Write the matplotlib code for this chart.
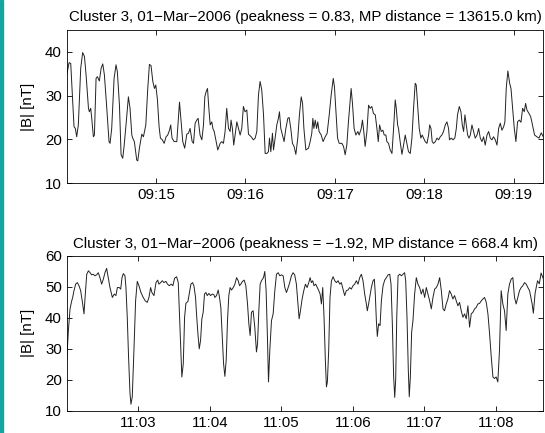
import matplotlib
matplotlib.use("Agg")
import matplotlib.pyplot as plt
import matplotlib.dates as mdates
import numpy as np
from matplotlib.patches import Rectangle

plt.rcParams['font.family'] = ['Liberation Sans', 'DejaVu Sans']
plt.rcParams['font.size'] = 10.8

# seconds after 09:14:00 and |B| in nT (first interval)
top_start = np.datetime64('2006-03-01T09:14:00')
top_sec = [0, 1.6, 2.7, 4.9, 5.8, 6.7, 7.8, 9.4, 10.7, 11.9, 13.0, 14.6, 15.2, 16.1, 16.8,
           17.9, 18.6, 19.7, 20.6, 21.9, 23.1, 24.2, 25.3, 26.9, 28.4, 29.1, 30.2, 31.8,
           33.1, 34.0, 35.4, 36.5, 37.6, 38.5, 39.8, 41.4, 42.5, 43.7, 44.3, 45.4, 47.0,
           47.7, 48.8, 50.4, 51.5, 53.1, 54.4, 55.5, 56.6, 57.8, 58.9, 59.8, 60.9, 62.0,
           62.9, 64.2, 65.4, 66.7, 67.8, 69.0, 69.8, 70.7, 72.1, 73.9, 75.0, 75.7, 76.6,
           77.9, 79.2, 80.6, 81.7, 82.8, 84.2, 85.1, 86.2, 87.3, 88.2, 89.5, 90.7, 91.8,
           92.7, 93.6, 94.5, 95.4, 96.3, 97.4, 98.1, 99.0,
           101.4, 103.0, 104.1, 105.2, 106.3, 107.4, 108.6, 109.7, 110.3, 111.2, 112.1,
           113.0, 114.2, 115.3, 116.4, 117.5, 118.6, 119.7, 120.9, 122.0, 123.8, 125.3,
           126.5, 127.6, 128.7, 129.8, 130.9, 132.1, 133.2, 134.3, 135.4, 136.1, 137.0,
           138.1, 138.8, 139.9, 141.0, 142.1, 142.8, 143.7, 144.8, 145.9, 147.1, 148.4,
           149.3, 150.4, 151.5, 152.6, 153.8, 155.1, 156.2, 157.4, 158.3, 159.2, 160.5,
           162.3, 163.4, 164.5, 165.2, 165.9, 166.8, 167.7, 168.5, 169.4, 170.8, 172.1,
           173.5, 174.8, 176.2, 177.5, 178.9, 179.7, 180.6, 181.8, 182.9, 184.7, 185.8,
           186.9, 188.0, 189.1, 190.0, 190.9, 191.8, 192.9, 194.1, 195.4, 196.3, 197.7,
           198.5, 199.4, 200.3, 201.5, 202.6,
           203.7, 204.8, 205.9, 207.1, 208.2, 209.1, 210.0, 211.1, 212.2, 213.1, 214.2,
           214.9, 216.0, 217.1, 218.3, 219.4, 220.5, 221.2, 222.1, 222.7, 223.8, 225.0,
           226.1, 227.2, 228.3, 229.4, 230.6, 231.7, 232.8, 233.9, 234.6, 235.5, 236.6,
           237.7, 238.6, 239.5, 240.6, 241.8, 242.9, 243.6, 244.5, 245.3, 246.2, 247.4,
           248.5, 249.6, 250.7, 251.8, 252.9, 254.1, 255.2, 256.3, 256.9, 258.1, 259.2,
           260.5, 261.5, 262.3, 263.5, 264.6, 265.5, 266.4, 267.3, 268.2, 269.1, 270.0,
           270.9, 272.0, 273.1, 274.2, 275.4, 276.5, 277.6, 278.7, 279.8, 280.9, 282.1,
           283.2, 284.3, 285.4, 286.5, 287.7, 288.8, 289.9, 291.0, 292.1, 293.3, 294.1,
           295.0, 296.1, 297.3, 298.2, 299.1, 300.4, 301.5, 302.6, 303.8, 304.9, 306.0,
           307.1, 308.0, 308.9, 310.3, 311.4, 312.5, 314.0, 316.0, 317.0, 318.5, 320.0]
top_b = [34.7, 37.5, 37.3, 22.9, 22.5, 20.6, 23.3, 36.2, 39.8, 38.9, 34.7, 27.1, 26.3, 27.1, 24.8,
         20.6, 21.0, 33.9, 34.3, 33.3, 36.2, 37.2, 34.7, 27.1, 19.5, 19.1, 22.5, 33.9,
         37.0, 35.4, 27.8, 16.5, 15.7, 18.4, 23.3, 29.7, 27.1, 21.0, 20.3, 19.5, 15.3,
         15.1, 18.0, 21.2, 20.6, 23.3, 31.6, 37.1, 36.8, 33.2, 31.6, 32.4, 29.0, 22.9,
         20.3, 19.9, 19.1, 20.6, 21.0, 22.1, 23.3, 20.3, 19.5, 19.5, 24.8, 28.5, 24.8,
         19.5, 18.0, 21.2, 21.4, 22.5, 19.5, 19.1, 23.7, 24.4, 24.8, 21.0, 19.9, 23.3,
         29.7, 30.9, 31.6, 27.1, 23.3, 24.0, 22.5, 21.8,
         17.6, 19.1, 19.5, 19.1, 21.8, 27.1, 22.5, 21.8, 24.4, 22.5, 18.7,
         21.0, 24.0, 22.5, 21.0, 22.5, 27.5, 26.3, 26.7, 21.2, 20.6, 19.9,
         20.3, 21.8, 30.1, 33.2, 31.3, 25.6, 16.8, 16.8, 17.2, 20.3, 17.2,
         21.4, 17.6, 20.3, 23.3, 24.8, 26.3, 22.5, 21.0, 19.5, 22.5, 24.8,
         25.0, 22.5, 19.1, 18.4, 16.6, 20.3, 25.6, 29.7, 28.2, 22.5, 17.6,
         18.0, 19.5, 21.4, 24.8, 22.5, 24.4, 22.5, 24.0, 21.8, 21.0, 19.5,
         20.6, 21.4, 25.6, 30.1, 33.9, 32.0, 27.1, 20.3, 19.1, 19.1, 18.4,
         16.5, 18.7, 24.0, 27.8, 31.6, 28.2, 22.5, 21.0, 21.8, 21.0, 22.5,
         24.4, 21.8, 18.4, 21.8, 27.8,
         27.1, 27.5, 25.9, 25.6, 22.5, 19.5, 23.3, 21.8, 22.1, 21.0, 21.0,
         19.5, 19.1, 17.6, 16.8, 22.5, 29.0, 27.1, 23.3, 22.5, 19.5, 16.6,
         18.7, 21.0, 19.1, 17.2, 16.8, 20.3, 27.1, 32.8, 32.4, 27.8, 22.5,
         20.3, 21.0, 20.3, 19.5, 19.1, 21.0, 23.3, 22.5, 19.5, 19.1, 19.5,
         20.3, 19.9, 20.6, 21.0, 21.8, 23.3, 24.0, 22.5, 19.9, 20.3, 19.9,
         20.3, 22.5, 25.6, 27.5, 26.3, 23.3, 21.8, 25.6, 23.3, 21.0, 20.3,
         21.0, 23.3, 21.8, 20.3, 21.0, 22.5, 20.3, 19.5, 20.6, 18.7, 21.0,
         21.8, 20.3, 19.9, 20.6, 19.9, 18.7, 22.5, 23.7, 22.1, 22.9, 24.0,
         31.6, 35.6, 32.8, 31.6, 27.8, 22.5, 19.5, 24.0, 24.4, 23.9, 27.1,
         26.3, 28.2, 26.7, 25.9, 25.2, 23.5, 21.0, 20.5, 20.3, 21.5, 20.5]

# seconds after 11:02:00 and |B| in nT (second interval)
bot_start = np.datetime64('2006-03-01T11:02:00')
bot_sec = [0, 1.4, 2.8, 4.2, 5.0, 6.1, 7.5, 8.9, 10.3, 11.7, 13.4, 14.5, 15.6, 16.8, 18.2,
           19.6, 20.9, 22.3, 23.7, 25.1, 26.5, 27.9, 29.3, 30.7, 32.1, 33.5, 34.9, 36.3,
           38.3, 39.9, 41.3, 42.5, 44.1, 45.3, 46.4, 47.5, 48.9, 49.7, 50.8, 51.9, 53.1,
           53.9, 55.0, 56.4, 57.8, 59.2, 60.6, 62.3, 64.2, 65.9, 67.6, 69.0, 70.4, 71.5,
           73.2, 74.9, 76.3, 77.4, 78.8, 80.2, 81.6, 83.2, 84.6, 86.0, 87.7, 89.1, 90.5,
           92.2, 93.6, 94.4, 95.5, 96.6, 97.8, 98.9, 100.0, 101.7, 102.8, 104.2, 105.6,
           106.7, 108.1, 108.9, 110.1, 111.2, 112.3, 113.4, 114.5, 115.6, 116.8, 117.9,
           119.3, 120.7, 122.1, 123.5,
           124.3, 125.7, 127.1, 128.2, 129.3, 130.5, 131.6, 132.7, 133.8, 134.9, 136.0,
           137.1, 138.3, 139.7, 141.1, 142.5, 143.9, 145.0, 146.1, 147.5, 148.9, 150.3,
           151.7, 152.8, 153.9, 155.0, 156.4, 157.8, 159.2, 160.1, 161.2, 162.3, 163.4,
           165.1, 166.2, 167.3, 168.4, 169.3, 170.4, 171.8, 173.2, 174.6, 176.0, 177.4,
           178.8, 180.2, 181.6, 183.0, 184.4, 185.8, 187.1, 188.5, 189.9, 191.3, 192.7,
           194.1, 195.0, 196.1, 197.5, 198.9, 200.3, 201.7, 203.1, 204.2, 205.3, 206.4,
           207.5, 208.9, 210.3, 211.5, 212.6, 213.7, 214.8, 215.9, 217.0, 217.9, 218.7,
           219.8, 220.9, 222.1, 223.5, 224.9, 226.3, 227.7, 229.1, 230.4, 231.8, 233.2,
           234.6, 236.0, 237.4, 238.8, 240.2, 241.6, 243.0, 244.4, 245.8, 247.2, 248.6,
           250.0, 251.4, 252.2, 253.3,
           254.2, 255.6, 257.0, 258.1, 258.9, 259.8, 260.6, 261.7, 262.9, 264.0, 265.4,
           266.8, 268.2, 269.6, 271.0, 272.1, 273.2, 274.3, 275.2, 276.0, 276.9, 278.0,
           279.4, 280.8, 282.1, 283.5, 284.4, 285.5, 286.6, 287.4, 288.3, 289.4, 290.5,
           291.9, 293.3, 294.7, 296.1, 297.5, 298.9, 300.3, 301.7, 303.1, 304.5, 305.9,
           307.3, 308.7, 310.1, 311.5, 312.9, 314.3, 315.7, 317.0, 318.4, 319.8, 321.2,
           322.6, 324.0, 325.4, 326.8, 328.2, 329.6, 331.0, 332.4, 333.8, 335.2, 336.6,
           338.0, 339.4, 340.8, 342.2, 343.6, 345.0, 346.4, 347.8, 349.2, 350.6, 352.0,
           353.4, 354.8, 356.2, 357.6, 358.9, 360.3, 361.7, 363.1, 364.5, 365.9, 367.3,
           368.7, 370.1, 371.5, 372.9, 374.3, 375.7, 377.1, 378.5, 379.9, 381.3, 382.7,
           384.1, 385.5, 386.9, 388.3, 389.5, 390.5, 391.5, 393.0, 395.0, 396.5, 398.0, 400.0]
bot_b = [26.3, 35.9, 42.9, 45.5, 46.6, 48.8, 50.9, 51.4, 50.4, 48.8, 44.5, 41.3, 47.7, 54.1, 55.2,
         54.6, 53.9, 54.1, 53.6, 53.9, 54.6, 53.0, 50.9, 52.5, 54.6, 56.0, 53.0, 49.8,
         46.6, 47.7, 47.2, 49.8, 49.8, 49.3, 53.0, 54.3, 53.6, 49.8, 40.2, 27.3, 15.6,
         12.1, 14.5, 29.5, 45.5, 51.8, 50.4, 48.2, 46.6, 45.5, 45.0, 46.6, 49.8, 48.2,
         47.2, 51.4, 52.2, 50.9, 51.4, 52.0, 51.4, 51.8, 50.9, 50.4, 50.9, 50.4, 52.8,
         53.3, 51.4, 43.4, 31.6, 20.9, 25.2, 40.2, 44.7, 45.3, 47.7, 50.9, 51.4,
         50.4, 46.6, 41.3, 34.8, 30.0, 32.7, 39.7, 41.8, 47.7, 48.2, 47.2,
         47.9, 47.2, 47.7, 47.5,
         46.6, 47.2, 49.0, 46.6, 43.4, 33.8, 25.2, 21.1, 26.3, 39.1, 47.2,
         49.8, 49.0, 49.8, 50.9, 53.0, 52.0, 50.4, 50.9, 51.8, 52.2, 50.4,
         44.5, 38.1, 34.3, 41.8, 42.3, 37.0, 29.0, 31.6, 42.3, 50.9, 52.0,
         53.0, 55.0, 48.8, 33.8, 19.3, 29.5, 39.1, 41.3, 48.8, 54.1, 54.6,
         53.6, 53.9, 53.6, 49.8, 48.2, 49.8, 51.4, 53.6, 54.6, 53.9, 50.9,
         43.9, 39.7, 42.3, 46.1, 48.8, 50.9, 49.8, 51.4, 53.0, 51.4, 52.0,
         50.4, 50.9, 49.8, 48.8, 47.7, 44.5, 49.8, 40.2, 26.3, 17.7, 19.3,
         29.5, 46.6, 52.0, 53.3, 52.0, 51.4, 52.0, 50.9, 51.4, 49.3, 47.2,
         48.8, 49.0, 49.8, 49.3, 50.4, 50.9, 52.0, 50.9, 53.0, 54.1, 52.0,
         47.7, 44.5, 42.3, 44.5,
         46.6, 49.8, 52.0, 52.5, 47.7, 39.1, 34.0, 38.1, 37.5, 45.5, 50.4,
         52.2, 53.0, 53.9, 54.1, 50.9, 38.1, 20.9, 14.3, 19.9, 40.2, 53.6,
         54.1, 53.6, 54.1, 54.6, 52.0, 40.2, 23.1, 14.5, 20.9, 35.4, 39.1,
         47.7, 53.0, 50.9, 49.8, 47.7, 49.3, 46.6, 49.8, 47.7, 45.5, 42.9,
         46.6, 49.3, 49.8, 50.9, 53.0, 48.8, 42.9, 42.3, 44.5, 46.1, 48.8,
         47.7, 46.1, 47.2, 45.5, 43.9, 45.0, 42.3, 40.2, 41.3, 39.7, 43.9,
         37.0, 41.3, 41.8, 42.9, 43.4, 44.5, 44.7, 45.5, 46.1, 46.6, 45.0,
         41.3, 34.8, 27.3, 20.9, 20.4, 20.9, 19.3, 29.5, 48.8, 44.5, 42.3,
         35.9, 47.7, 50.9, 52.5, 53.0, 46.6, 44.5, 46.6, 48.8, 49.8, 50.4,
         51.4, 50.9, 49.8, 48.8, 46.5, 44.5, 41.5, 48.0, 52.0, 51.0, 54.5, 52.5]

titles = ['Cluster 3, 01\u2212Mar\u22122006 (peakness = 0.83, MP distance = 13615.0 km)',
          'Cluster 3, 01\u2212Mar\u22122006 (peakness = \u22121.92, MP distance = 668.4 km)']
ylims = [(10, 45), (10, 60)]
yticks = [[10, 20, 30, 40], [10, 20, 30, 40, 50, 60]]
spans = [320, 400]

fig = plt.figure(figsize=(5.45, 4.33), dpi=100)
fig.patches.append(Rectangle((0, 0), 2.5 / 545, 1, transform=fig.transFigure,
                             color='#15a5a0', zorder=0))

axes = [fig.add_axes([0.1224, 0.5767, 0.8748, 0.3547]),
        fig.add_axes([0.1224, 0.0515, 0.8748, 0.3573])]

series = [(top_start, top_sec, top_b), (bot_start, bot_sec, bot_b)]
for i, ax in enumerate(axes):
    start, sec, b = series[i]
    t = start + (np.array(sec) * 1000).astype('timedelta64[ms]')
    ax.plot(t.astype('datetime64[ms]').astype(object), b, color='#222222', lw=0.7)
    end = start + np.timedelta64(spans[i], 's')
    ax.set_xlim(start.astype(object), end.astype(object))
    ax.set_ylim(*ylims[i])
    ax.set_yticks(yticks[i])
    minutes = np.arange(start + np.timedelta64(60, 's'), end, np.timedelta64(60, 's'))
    ax.set_xticks(minutes.astype('datetime64[s]').astype(object))
    ax.xaxis.set_major_formatter(mdates.DateFormatter('%H:%M'))
    ax.tick_params(direction='in', length=3.5, width=0.6, top=True, right=True,
                   pad=3.5, labelsize=10.8)
    for s in ax.spines.values():
        s.set_linewidth(0.6)
    ax.set_ylabel('|B| [nT]', fontsize=10.8, labelpad=7)
    ax.set_title(titles[i], fontsize=10.8, pad=6)

fig.savefig('out.png', dpi=100)
